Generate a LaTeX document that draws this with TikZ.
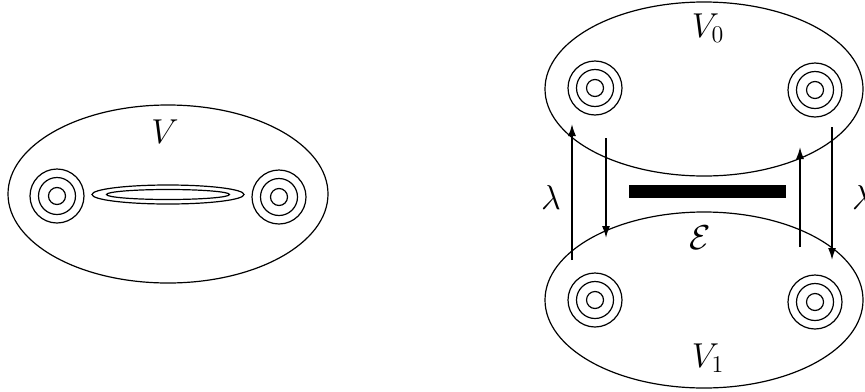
\documentclass[tikz,border=0pt]{standalone}
\usetikzlibrary{
  arrows.meta, % Pfeilspitzen
  calc
}

\begin{document}
\begin{tikzpicture}[
      x=0.5pt, y=-0.5pt, % 1 Einheit = 1 Pixel der Vorlage
      line width=0.6pt, % Standard-Linienstaerke
      >={Latex[length=6pt, width=4pt]}, % Standard-Pfeilspitze
      pfeil/.style={line width=0.8pt, ->}, % Pfeile fuer lambda
      lab/.style={inner sep=0pt, font=\fontsize{16.5}{20}\selectfont}, % Beschriftungen
    ]
    \useasboundingbox (0,0) rectangle (865,391);

    % Größen
    \def\ra{27}
    \def\rb{18.5}
    \def\rc{8.5}

    % Koordinaten der Mittelpunkte
    \coordinate (V) at (168,194);
    \coordinate (V0) at (704,89);
    \coordinate (V1) at (704,300);

    \coordinate (P1) at (57,196);
    \coordinate (P2) at (279,197);
    \coordinate (P3) at (595,88);
    \coordinate (P4) at (815,90);
    \coordinate (P5) at (595,300);
    \coordinate (P6) at (815,302);

    % Henkelkoerper
    \draw (V) ellipse [x radius=160, y radius=89];
    \draw (V0) ellipse [x radius=159, y radius=87];
    \draw (V1) ellipse [x radius=159, y radius=88];

    % Ringe
    \foreach \p in {P1, P2, P3, P4, P5, P6}
    \foreach \r in {\ra, \rb, \rc}
    \draw (\p) circle [radius=\r];

    % schmale Scheibe in V
    \draw ($(V)+(0,0.5)$) ellipse [x radius=76, y radius=9.5];
    \draw ($(V)+(0,0.5)$) ellipse [x radius=61.5, y radius=5];

    % Balken
    \coordinate (B1) at (629,185);
    \coordinate (B2) at (786,198);
    \fill (B1) rectangle (B2);

    % Pfeile
    \coordinate (A1) at (572,260);
    \coordinate (A2) at (572,124);
    \coordinate (B3) at (606,138);
    \coordinate (B4) at (606,238);
    \coordinate (C1) at (800,247);
    \coordinate (C2) at (800,147);
    \coordinate (D1) at (832,127);
    \coordinate (D2) at (832,260);

    \foreach \i/\j in {A1/A2, B3/B4, C1/C2, D1/D2}
    \draw[pfeil] (\i) -- (\j);

    % Beschriftungen
    \node[lab] (lV) at (165,132) {$V$};
    \node[lab] (lV0) at (708,28) {$V_0$};
    \node[lab] (lV1) at (708,358) {$V_1$};
    \node[lab] (lE) at (700,238) {$\mathcal{E}$};
    \node[lab] (ll1) at (551,197) {$\lambda$};
    \node[lab] (ll2) at (862,197) {$\lambda$};
  \end{tikzpicture}
\end{document}
